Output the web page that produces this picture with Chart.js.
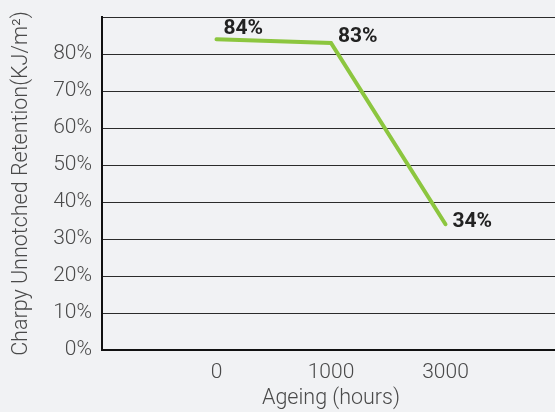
<!DOCTYPE html>
<html>
<head>
<meta charset="utf-8">
<script src="https://cdn.jsdelivr.net/npm/chart.js@4"></script>
<style>
    html, body { margin: 0; padding: 0; background: #f1f2f4; overflow: hidden; }
</style>
</head>
<body>
<!-- the plot runs a little past the right edge in the original, so the canvas is wider than the window -->
<canvas id="retentionChart" width="570" height="412"></canvas>
<script>
// Chart data
const hours = ['', '0', '1000', '3000', ''];
const retention = [null, 84, 83, 34, null];
const yTicks = [0, 10, 20, 30, 40, 50, 60, 70, 80];

// little nudge for each value label (px, up is negative)
const labelShiftY = [0, -10, -6, -2, 0];

const valueLabels = {
    id: 'valueLabels',
    afterDatasetsDraw(chart) {
        const ctx = chart.ctx;
        const meta = chart.getDatasetMeta(0);
        ctx.save();
        ctx.font = 'bold 21px Roboto';
        ctx.fillStyle = '#222';
        ctx.textAlign = 'left';
        ctx.textBaseline = 'middle';
        meta.data.forEach(function (pt, i) {
            const v = retention[i];
            if (v == null) return;
            ctx.fillText(v + '%', pt.x + 7, pt.y + labelShiftY[i]);
        });
        ctx.restore();
    }
};

const textFont = { family: 'Roboto', size: 21, weight: 300 };

new Chart(document.getElementById('retentionChart'), {
    type: 'line',
    data: {
        labels: hours,
        datasets: [{
            data: retention,
            borderColor: '#8cc63f',
            borderWidth: 4,
            borderCapStyle: 'round',
            pointRadius: 0,
            tension: 0
        }]
    },
    options: {
        responsive: false,
        animation: false,
        layout: { padding: { top: 17, left: 0, right: 0, bottom: 0 } },
        plugins: {
            legend: { display: false },
            tooltip: { enabled: false }
        },
        scales: {
            x: {
                offset: false,
                grid: { display: false, drawTicks: false },
                border: { color: '#111', width: 2 },
                ticks: {
                    color: '#4a4a4a',
                    font: textFont,
                    padding: 10,
                    maxRotation: 0,
                    autoSkip: false
                },
                title: {
                    display: true,
                    text: 'Ageing (hours)',
                    color: '#4a4a4a',
                    font: { family: 'Roboto', size: 21.5, weight: 300 },
                    padding: { top: 0, bottom: 0 }
                },
                afterFit: function (scale) { scale.height = 62; }
            },
            y: {
                min: 0,
                max: 90,
                grid: { color: '#2b2b2b', lineWidth: 1, drawTicks: false },
                border: { color: '#111', width: 2 },
                ticks: {
                    stepSize: 10,
                    color: '#4a4a4a',
                    font: textFont,
                    padding: 10,
                    callback: function (v) { return yTicks.includes(v) ? v + '%' : ''; }
                },
                title: {
                    display: true,
                    text: 'Charpy Unnotched Retention(KJ/m²)',
                    color: '#4a4a4a',
                    font: { family: 'Roboto', size: 21.5, weight: 300 },
                    padding: { top: 9, bottom: 0 }
                },
                afterFit: function (scale) {
                    scale.width = 102;
                    scale.paddingTop = 0; // top gridline sits right under the padding
                }
            }
        }
    },
    plugins: [valueLabels]
});
</script>
</body>
</html>
